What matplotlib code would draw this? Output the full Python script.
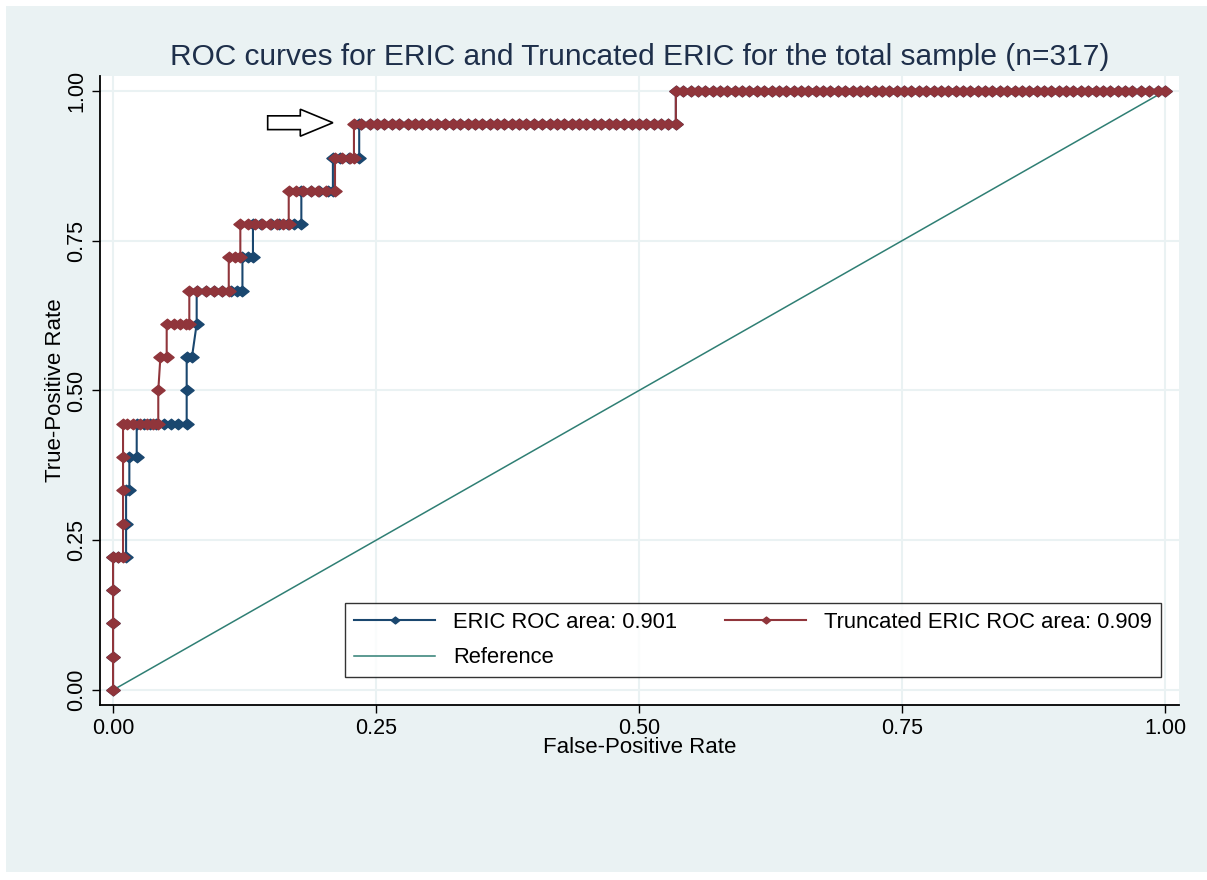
import matplotlib
matplotlib.use("Agg")
import matplotlib.pyplot as plt
from matplotlib.patches import Rectangle, FancyArrow
from matplotlib.path import Path

plt.rcParams['font.family'] = ['Liberation Sans', 'DejaVu Sans']

# ROC points, TPR in steps of 1/18 (18 positives)
t = [k / 18 for k in range(19)]

# FPR cut points shared by both curves on the two top plateaus
run17 = [0.236, 0.244, 0.251, 0.258, 0.265, 0.272, 0.280, 0.287, 0.294, 0.301, 0.308,
         0.316, 0.323, 0.330, 0.337, 0.344, 0.351, 0.358, 0.365, 0.372, 0.379, 0.386,
         0.393, 0.400, 0.408, 0.415, 0.422, 0.429, 0.436, 0.443, 0.450, 0.457, 0.464,
         0.471, 0.478, 0.486, 0.493, 0.500, 0.507, 0.514, 0.521, 0.528, 0.535]
run18 = [0.535, 0.542, 0.549, 0.556, 0.563, 0.570, 0.577, 0.584, 0.591, 0.598, 0.605,
         0.612, 0.619, 0.626, 0.633, 0.640, 0.647, 0.654, 0.661, 0.668, 0.675, 0.682,
         0.689, 0.696, 0.703, 0.710, 0.717, 0.724, 0.731, 0.738, 0.745, 0.752, 0.759,
         0.766, 0.773, 0.780, 0.787, 0.794, 0.801, 0.808, 0.815, 0.822, 0.829, 0.836,
         0.843, 0.850, 0.857, 0.864, 0.871, 0.878, 0.885, 0.892, 0.899, 0.906, 0.913,
         0.920, 0.927, 0.934, 0.941, 0.948, 0.955, 0.962, 0.969, 0.977, 0.985, 0.993, 1.0]

# Truncated ERIC
red_low = [0, 0, 0, 0, 0, 0.005, 0.0095, 0.0095, 0.0095, 0.0095, 0.0095,
           0.013, 0.019, 0.026, 0.032, 0.038, 0.043,
           0.043, 0.045, 0.051, 0.051, 0.058, 0.064, 0.069, 0.0725,
           0.0725, 0.080, 0.088, 0.096, 0.104, 0.110,
           0.110, 0.116, 0.121, 0.121, 0.128, 0.135, 0.142, 0.149, 0.156, 0.162, 0.167,
           0.167, 0.174, 0.181, 0.188, 0.195, 0.202, 0.211,
           0.211, 0.218, 0.225, 0.229, 0.229]
red_low_tpr = ([t[0], t[1], t[2], t[3], t[4], t[4], t[4], t[5], t[6], t[7]]
               + [t[8]] * 7
               + [t[9], t[10], t[10]]
               + [t[11]] * 5
               + [t[12]] * 6
               + [t[13]] * 3
               + [t[14]] * 8
               + [t[15]] * 7
               + [t[16]] * 4
               + [t[17]])
red_fpr = red_low + run17 + run18
red_tpr = red_low_tpr + [t[17]] * len(run17) + [t[18]] * len(run18)

# ERIC
blue_low = [0, 0, 0, 0, 0, 0.005, 0.0124, 0.0124, 0.0124, 0.0155, 0.0155, 0.0225,
            0.0225, 0.029, 0.035, 0.041, 0.048, 0.055, 0.062, 0.070,
            0.070, 0.070, 0.075, 0.0795,
            0.0795, 0.088, 0.096, 0.104, 0.112, 0.118, 0.123,
            0.123, 0.128, 0.133,
            0.133, 0.141, 0.150, 0.158, 0.166, 0.172, 0.179,
            0.179, 0.188, 0.196, 0.204, 0.209,
            0.209, 0.216, 0.224, 0.234, 0.234]
blue_low_tpr = ([t[0], t[1], t[2], t[3], t[4], t[4], t[4], t[5], t[6], t[6], t[7], t[7]]
                + [t[8]] * 8
                + [t[9], t[10], t[10], t[11]]
                + [t[12]] * 7
                + [t[13]] * 3
                + [t[14]] * 7
                + [t[15]] * 5
                + [t[16]] * 4
                + [t[17]])
blue_fpr = blue_low + run17 + run18
blue_tpr = blue_low_tpr + [t[17]] * len(run17) + [t[18]] * len(run18)

ref = [0, 1]
ticks = [0, 0.25, 0.5, 0.75, 1.0]
tick_labels = ["0.00", "0.25", "0.50", "0.75", "1.00"]

blue = '#1a476f'
red = '#90353b'
teal = '#2f7f74'
bg = '#eaf2f3'

# Stata-like diamond, a touch wider than tall
diamond = Path([(-1, 0), (0, 0.8), (1, 0), (0, -0.8), (-1, 0)],
               [Path.MOVETO, Path.LINETO, Path.LINETO, Path.LINETO, Path.CLOSEPOLY])

fig = plt.figure(figsize=(12.07, 8.8), dpi=100)
fig.patch.set_facecolor('white')
fig.patches.append(Rectangle((6 / 1207, 8 / 880), 1, 1 - 14 / 880,
                             transform=fig.transFigure, facecolor=bg,
                             edgecolor='none', zorder=-10))
ax = fig.add_axes([100 / 1207, 1 - 705 / 880, 1079 / 1207, 629 / 880])
ax.set_facecolor('white')

l_ref, = ax.plot(ref, ref, color=teal, lw=1.1, zorder=2)
l_blue, = ax.plot(blue_fpr, blue_tpr, color=blue, lw=1.5, marker=diamond, ms=9.5,
                  zorder=3)
l_red, = ax.plot(red_fpr, red_tpr, color=red, lw=1.5, marker=diamond, ms=9.5,
                 zorder=4)

ax.add_patch(FancyArrow(0.147, 0.947, 0.062, 0, width=0.023, head_width=0.045,
                        head_length=0.031, length_includes_head=True,
                        fc='white', ec='black', lw=1.2, zorder=5))

ax.set_xlim(-0.0124, 1.0133)
ax.set_ylim(-0.025, 1.025)
ax.set_xticks(ticks)
ax.set_xticklabels(tick_labels)
ax.set_yticks(ticks)
ax.set_yticklabels(tick_labels, rotation=90, va='center')
ax.tick_params(labelsize=15.5, length=6, width=1, color='black', pad=3)
ax.grid(True, color=bg, lw=1.5)
ax.set_axisbelow(True)
for s in ['top', 'right']:
    ax.spines[s].set_visible(False)
for s in ['left', 'bottom']:
    ax.spines[s].set_linewidth(1.3)

ax.set_xlabel("False-Positive Rate", fontsize=16, labelpad=-1)
ax.set_ylabel("True-Positive Rate", fontsize=16, labelpad=0)
fig.text(640 / 1207, 1 - 57 / 880, "ROC curves for ERIC and Truncated ERIC for the total sample (n=317)",
         ha='center', va='center', fontsize=21.5, color='#1e2f4a')

leg = ax.legend([l_blue, l_ref, l_red],
                ['ERIC ROC area: 0.901', 'Reference', 'Truncated ERIC ROC area: 0.909'],
                ncol=2, loc='lower right', bbox_to_anchor=(0.983, 0.0445),
                fontsize=15.8, frameon=True, fancybox=False, edgecolor='black',
                handlelength=3.7, handletextpad=0.8, columnspacing=2.2,
                markerscale=0.65, borderpad=0.4, labelspacing=0.65,
                borderaxespad=0)
leg.get_frame().set_linewidth(1.0)

fig.savefig("out.png", dpi=100, facecolor='white')
